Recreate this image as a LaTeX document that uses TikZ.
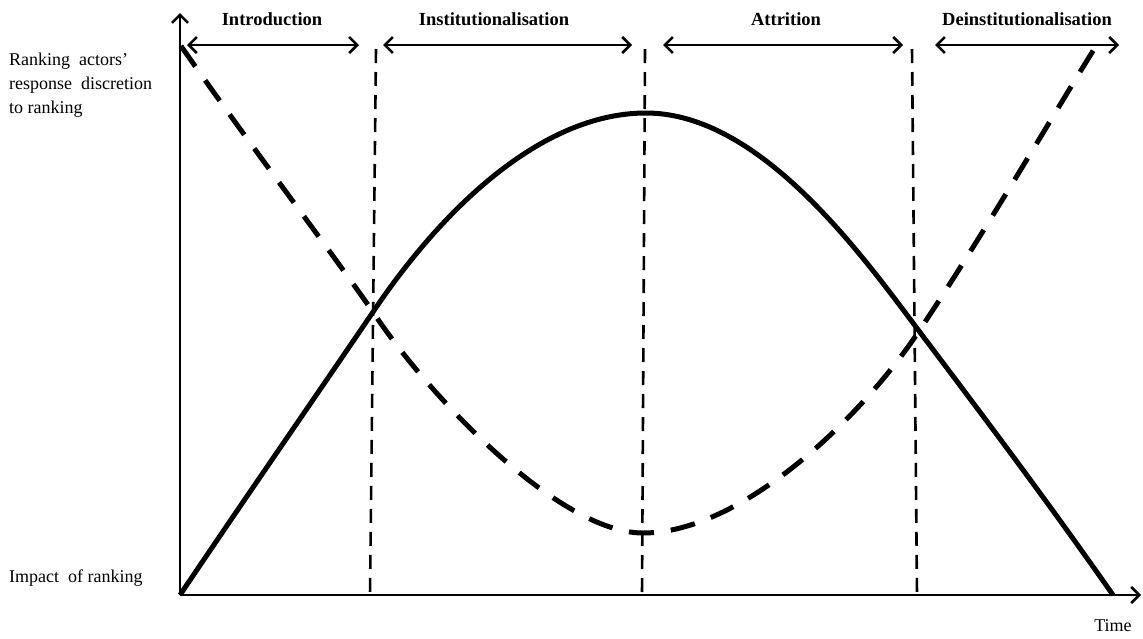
\documentclass[tikz,border=0pt]{standalone}
\usepackage{fontspec}
\setmainfont{Liberation Serif}
\usetikzlibrary{arrows.meta}
\begin{document}
\begin{tikzpicture}[x=1pt,y=-1pt,
  axisline/.style={line width=2.6pt,-{Straight Barb[length=8pt,width=16pt]}},
  phasearrow/.style={line width=2.6pt,{Straight Barb[length=8pt,width=16pt]}-{Straight Barb[length=8pt,width=16pt]}},
  divider/.style={line width=2.6pt,dash pattern=on 14pt off 9pt},
  impact/.style={line width=5pt,line join=round},
  discretion/.style={line width=5pt,dash pattern=on 25pt off 17pt},
  phaselabel/.style={font=\bfseries\fontsize{18.5}{22}\selectfont,inner sep=0pt},
  axislabel/.style={font=\fontsize{18}{24}\selectfont,align=left,anchor=west,inner sep=0pt}]
\useasboundingbox (0,0) rectangle (1143,638);

% axes
\coordinate (O) at (180,595);
\coordinate (Ytop) at (180,13);
\coordinate (Xend) at (1141,595);
\draw[axisline] (O) -- (Ytop);
\draw[axisline] (O) -- (Xend);

% dividers
\coordinate (d1t) at (376,49); \coordinate (d1b) at (370,595);
\coordinate (d2t) at (645,49); \coordinate (d2b) at (642,595);
\coordinate (d3t) at (912,49); \coordinate (d3b) at (917,595);
\draw[divider] (d1t) -- (d1b);
\draw[divider] (d2t) -- (d2b);
\draw[divider] (d3t) -- (d3b);

% phase arrows
\coordinate (a1l) at (187,45); \coordinate (a1r) at (359,45);
\coordinate (a2l) at (383,45); \coordinate (a2r) at (632,45);
\coordinate (a3l) at (663,45); \coordinate (a3r) at (903,45);
\coordinate (a4l) at (935,45); \coordinate (a4r) at (1119,45);
\draw[phasearrow] (a1l) -- (a1r);
\draw[phasearrow] (a2l) -- (a2r);
\draw[phasearrow] (a3l) -- (a3r);
\draw[phasearrow] (a4l) -- (a4r);

% phase labels
\node[phaselabel] (intro) at (272,19) {Introduction};
\node[phaselabel] (inst) at (494,19) {Institutionalisation};
\node[phaselabel] (attr) at (786,19) {Attrition};
\node[phaselabel] (deinst) at (1027,19) {Deinstitutionalisation};

% axis labels
\node[axislabel] (ylab) at (9,85) {Ranking\ \ actors’\\response\ \ discretion\\to ranking};
\node[axislabel] (imp) at (9,578) {Impact\ \ of ranking};
\node[font=\fontsize{18}{22}\selectfont,inner sep=0pt] (time) at (1113,626) {Time};

% curve key points
\coordinate (c1) at (373,312);
\coordinate (peak) at (646,113);
\coordinate (c2) at (919,331);
\coordinate (iend) at (1113,595);
\coordinate (dstart) at (181,46);
\coordinate (dmin) at (643,533);
\coordinate (dend) at (1096,46);

% impact of ranking (solid)
\draw[impact] (O) .. controls (235,513) and (320,390) .. (c1)
  .. controls (440,212) and (540,113) .. (peak)
  .. controls (760,113) and (862,255) .. (c2)
  .. controls (990,425) and (1050,505) .. (iend);

% response discretion (dashed)
\draw[discretion] (dstart) .. controls (250,145) and (330,250) .. (c1)
  .. controls (430,398) and (560,533) .. (dmin)
  .. controls (740,533) and (860,420) .. (c2)
  .. controls (980,240) and (1050,120) .. (dend);
\end{tikzpicture}
\end{document}
